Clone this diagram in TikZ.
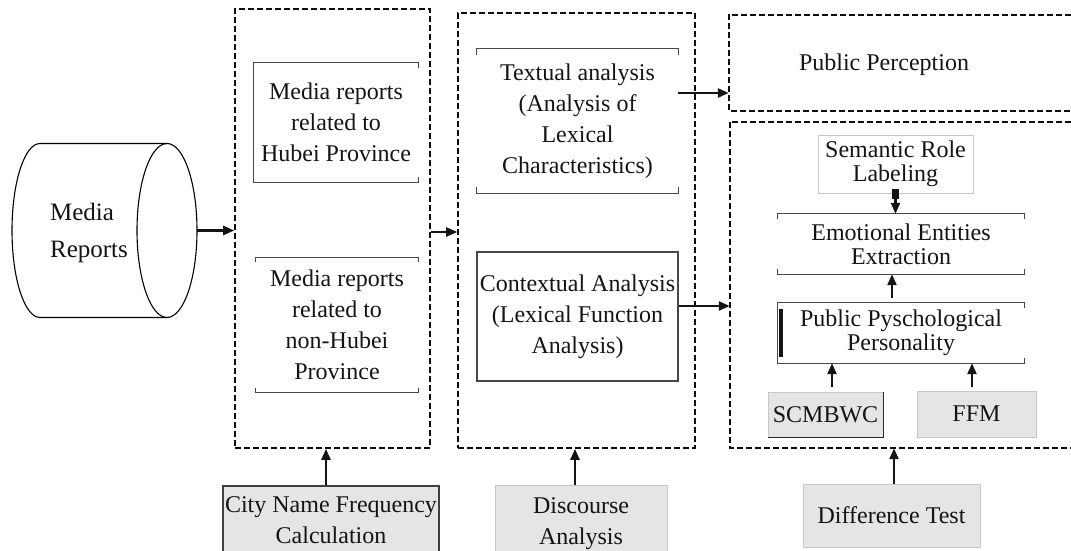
\documentclass[tikz,border=0pt]{standalone}
\usepackage{fontspec}
\setmainfont{Liberation Serif}
\usetikzlibrary{arrows.meta}
\begin{document}
\begin{tikzpicture}[x=1pt,y=-1pt,
  txt/.style={font=\fontsize{24}{31}\selectfont, align=center, inner sep=0pt, text=black!92},
  tight/.style={font=\fontsize{24}{24}\selectfont, align=center, inner sep=0pt, text=black!92},
  dbox/.style={draw=black!95, line width=1.6pt, dash pattern=on 6pt off 3pt},
  arr/.style={line width=2.3pt, draw=black!92, -{Triangle[length=11pt,width=9pt]}},
  thinl/.style={draw=black!72, line width=1.2pt},
  gbox/.style={fill=black!10, draw=black!22, line width=1pt}]
\useasboundingbox (0,0) rectangle (1071,551);

% Media reports cylinder
\node[inner sep=0pt, minimum width=185pt, minimum height=173pt] (media) at (104.5,230.5) {};
\draw[line width=1.1pt] (167,143.5) -- (40,143.5)
  arc[start angle=90, end angle=270, x radius=28pt, y radius=87pt] -- (167,317.5);
\draw[line width=1.1pt] (167,230.5) ellipse [x radius=30pt, y radius=87pt];
\node[font=\fontsize{25}{37}\selectfont, align=left, inner sep=0pt, text=black!92] (mtxt) at (89,233) {Media\\Reports};

% dashed containers
\node[dbox, minimum width=195pt, minimum height=439pt] (box1) at (332.5,228.5) {};
\node[dbox, minimum width=237pt, minimum height=435pt] (box2) at (576.5,230.5) {};
\node[inner sep=0pt, minimum width=351pt, minimum height=96pt] (box3) at (904.5,63) {};
\draw[dbox] (box3.north east) -- (box3.north west) -- (box3.south west) -- (box3.south east);
\node[txt] (pptxt) at (884,65) {Public Perception};
\node[inner sep=0pt, minimum width=350pt, minimum height=326pt] (box4) at (905,285) {};
\draw[dbox] (box4.north east) -- (box4.north west) -- (box4.south west) -- (box4.south east);

% column 1
\node[txt, minimum width=164pt, minimum height=119pt] (hubei) at (336,122.5)
  {Media reports\\related to\\Hubei Province};
\draw[thinl] (hubei.north east) ++(0,5) -- (hubei.north east) -- (hubei.north west)
  -- (hubei.south west) -- (hubei.south east) -- ++(0,-5);
\node[txt, minimum width=162pt, minimum height=135pt] (nonhubei) at (337,325)
  {Media reports\\related to\\non-Hubei\\Province};
\draw[thinl] (nonhubei.north west) ++(0,5) -- (nonhubei.north west) -- (nonhubei.north east) -- ++(0,5);
\draw[thinl] (nonhubei.south west) ++(0,-5) -- (nonhubei.south west) -- (nonhubei.south east) -- ++(0,-5);

% column 2
\node[txt, minimum width=201pt, minimum height=144pt] (textual) at (577.5,121)
  {Textual analysis\\(Analysis of\\Lexical\\Characteristics)};
\draw[thinl] (textual.north west) ++(0,6) -- (textual.north west) -- (textual.north east) -- ++(0,6);
\draw[thinl] (textual.south west) ++(0,-6) -- (textual.south west) -- (textual.south east) -- ++(0,-6);
\node[txt, thinl, minimum width=201pt, minimum height=129pt] (ctx) at (577.5,316.5)
  {Contextual Analysis\\(Lexical Function\\Analysis)};

% column 3
\node[tight, draw=black!22, line width=1pt, minimum width=155pt, minimum height=58pt] (sem) at (895.5,164)
  {Semantic Role\\Labeling};
\node[tight, minimum width=246pt, minimum height=60pt] (emo) at (901,244)
  {Emotional Entities\\Extraction};
\draw[thinl] (emo.north west) ++(0,5) -- (emo.north west) -- (emo.north east) -- ++(0,5);
\draw[thinl] (emo.south west) ++(0,-5) -- (emo.south west) -- (emo.south east) -- ++(0,-5);
\node[tight, minimum width=246pt, minimum height=60pt] (ppp) at (901,333)
  {Public Pyschological\\Personality};
\draw[thinl] (ppp.north east) ++(0,5) -- (ppp.north east) -- (ppp.north west)
  -- (ppp.south west) -- (ppp.south east) -- ++(0,-5);
\draw[line width=3.4pt, black!92] ([xshift=3pt,yshift=-6pt]ppp.north west) -- ([xshift=3pt,yshift=6pt]ppp.south west);
\node[txt, gbox, minimum width=115pt, minimum height=45pt] (scm) at (825.5,414.5) {SCMBWC};
\draw[line width=1.2pt, black!85] (scm.south west) -- (scm.south east) -- (scm.north east);
\node[txt, gbox, minimum width=119pt, minimum height=46pt] (ffm) at (976.5,414) {FFM};

% bottom boxes
\node[txt, fill=black!10, draw=black!75, line width=1.1pt, minimum width=216pt, minimum height=68pt] (city) at (331,520)
  {City Name Frequency\\Calculation};
\node[txt, gbox, minimum width=172pt, minimum height=78pt] (disc) at (581,524)
  {Discourse\\Analysis};
\node[txt, gbox, minimum width=177pt, minimum height=63pt] (diff) at (891.5,515.5) {Difference Test};

% connectors
\draw[arr] (media.east) -- (media.east -| box1.west);
\draw[arr] ([yshift=-3.5pt]box1.east) -- ([yshift=-3.5pt]box1.east -| box2.west);
\draw[arr] ([yshift=28pt]textual.east) -- ([yshift=28pt]textual.east -| box3.west);
\draw[arr] ([yshift=10.5pt]ctx.east) -- ([yshift=10.5pt]ctx.east -| box4.west);
\fill[black!92] ([xshift=-3.5pt,yshift=5pt]sem.south) rectangle ([xshift=3.5pt,yshift=-5pt]sem.south);
\draw[arr] (sem.south) -- (sem.south |- emo.north);
\draw[arr] ([xshift=-9pt,yshift=5pt]ppp.north) -- ([xshift=-9pt]emo.south);
\draw[arr] ([xshift=6.5pt,yshift=5pt]scm.north) -- ([xshift=6.5pt]scm.north |- ppp.south);
\draw[arr] ([xshift=-4.5pt,yshift=4pt]ffm.north) -- ([xshift=-4.5pt]ffm.north |- ppp.south);
\draw[arr] ([xshift=-5pt]city.north) -- ([xshift=-5pt]city.north |- box1.south);
\draw[arr] ([xshift=-6pt]disc.north) -- ([xshift=-6pt]disc.north |- box2.south);
\draw[arr] ([xshift=2.5pt]diff.north) -- ([xshift=2.5pt]diff.north |- box4.south);
\end{tikzpicture}
\end{document}
